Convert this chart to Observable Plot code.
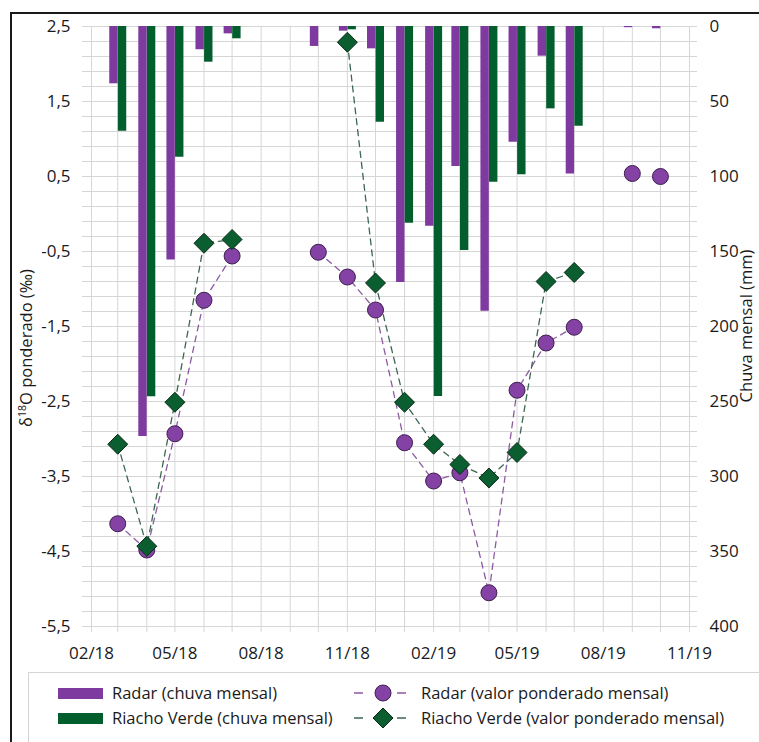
<!DOCTYPE html>
<html><head><meta charset="utf-8">
<script src="https://cdn.jsdelivr.net/npm/d3@7"></script>
<script src="https://cdn.jsdelivr.net/npm/@observablehq/plot@0.6"></script>
<style>
body{margin:0;background:#fff;font-family:"Open Sans",sans-serif;}
#wrap{position:relative;width:759px;height:742px;overflow:hidden;background:#fff;}
#frame{position:absolute;left:10px;top:12px;width:800px;height:800px;border:2px solid #1a1a1a;}
#chart{position:absolute;left:0;top:0;}
#legend{position:absolute;left:28px;top:672px;width:800px;height:100px;border:1px solid #d4d4d4;background:#fff;}
.li{position:absolute;font-size:16.5px;color:#1a1a1a;white-space:nowrap;line-height:20px;}
.sw{position:absolute;width:45px;height:11px;}
.sym{position:absolute;}
</style></head><body>
<div id="wrap">
  <div id="frame"></div>
  <div id="chart"></div>
  <div id="legend"></div>
</div>
<script>
// ---- data (months 03/18 .. 10/19) ----
const months = ["2018-03","2018-04","2018-05","2018-06","2018-07","2018-08","2018-09","2018-10","2018-11","2018-12",
                "2019-01","2019-02","2019-03","2019-04","2019-05","2019-06","2019-07","2019-08","2019-09","2019-10"];
const radarRain   = [38.2, 273.3, 155.6, 15.5, 4.9, null, null, 13.3, 3.1, 14.9, 170.6, 133.2, 93.4, 189.9, 77.2, 19.8, 98.3, null, 0.8, 1.5];
const riachoRain  = [69.8, 246.8, 87.2, 23.8, 8.2, null, null, null, 2.2, 63.8, 131.2, 246.6, 149.4, 103.9, 98.9, 54.9, 66.5, null, null, null];
const radarD18O   = [-4.13, -4.48, -2.93, -1.15, -0.56, null, null, -0.51, -0.84, -1.28, -3.05, -3.56, -3.45, -5.05, -2.35, -1.72, -1.51, null, 0.54, 0.50];
const riachoD18O  = [-3.07, -4.43, -2.51, -0.39, -0.34, null, null, null, 2.29, -0.92, -2.51, -3.07, -3.34, -3.52, -3.18, -0.90, -0.78, null, null, null];
// radar line is drawn only through 07/19 (isolated points afterwards)
const radarLineEnd = "2019-07";

// ---- axis ticks ----
const yMajor = [2.5, 1.5, 0.5, -0.5, -1.5, -2.5, -3.5, -4.5, -5.5];
const rainTickLabels = ["0","50","100","150","200","250","300","350","400"];
const xStart = "2018-02", xEnd = "2019-11";
const xMajorLabels = ["02/18","05/18","08/18","11/18","02/19","05/19","08/19","11/19"];

const seriesNames = {
  radarBar: "Radar (chuva mensal)",
  riachoBar: "Riacho Verde (chuva mensal)",
  radarLine: "Radar (valor ponderado mensal)",
  riachoLine: "Riacho Verde (valor ponderado mensal)"
};
const yTitle = "ponderado (‰)";
const y2Title = "Chuva mensal (mm)";

// ---- colours ----
const PURPLE = "#7e3a9e", GREEN = "#035e2e";
const PURPLE_DOT = "#8442a4", PURPLE_DOT_STROKE = "#3e1f50";
const GREEN_DOT = "#0a5e30", GREEN_DOT_STROKE = "#0b2a17";
const PURPLE_LINE = "#8c5aa3", GREEN_LINE = "#3c6753";
const GRID = "#d6d6d6";

// rain (mm) shares the plot with δ18O: 0 mm at 2.5, 50 mm per unit
const RAIN_TOP = 2.5, MM_PER_UNIT = 50;
const rainToY = mm => RAIN_TOP - mm / MM_PER_UNIT;

const toDate = m => new Date(m + "-01T00:00:00Z");
const rows = months.map((m, i) => ({
  date: toDate(m), radarRain: radarRain[i], riachoRain: riachoRain[i],
  radarD: radarD18O[i], riachoD: riachoD18O[i]
}));

const yMinor = d3.range(0, 41).map(i => +(yMajor[yMajor.length-1] + i * 0.2).toFixed(2));
const monthTicks = d3.utcMonth.range(toDate(xStart), d3.utcMonth.offset(toDate(xEnd), 1));
const xMajor = monthTicks.filter((d, i) => i % 3 === 0);
const fmtY = d => d.toFixed(1).replace(".", ",");
const fmtRain = d => rainTickLabels[yMajor.indexOf(d)];
const fmtX = d => xMajorLabels[xMajor.findIndex(t => +t === +d)];

const chart = Plot.plot({
  width: 759, height: 690,
  marginLeft: 91, marginRight: 70, marginTop: 26, marginBottom: 64,
  style: {fontFamily: "Open Sans, sans-serif", fontSize: "17px", color: "#1a1a1a", background: "transparent"},
  x: {type: "utc", domain: [toDate(xStart), toDate(xEnd)]},
  y: {domain: [yMajor[yMajor.length-1], yMajor[0]]},
  marks: [
    Plot.ruleY(yMinor, {stroke: GRID, strokeWidth: 1}),
    Plot.ruleX(monthTicks, {stroke: GRID, strokeWidth: 1}),
    Plot.axisY({anchor: "left", ticks: yMinor, tickSize: 9, tickFormat: () => "", stroke: GRID, label: null}),
    Plot.axisY({anchor: "right", ticks: yMinor, tickSize: 7, tickFormat: () => "", stroke: GRID, label: null}),
    Plot.axisY({anchor: "left", ticks: yMajor, tickSize: 0, tickPadding: 21, tickFormat: fmtY, label: null}),
    Plot.axisY({anchor: "right", ticks: yMajor, tickSize: 0, tickPadding: 20, tickFormat: fmtRain, label: null}),
    Plot.axisX({ticks: monthTicks, tickSize: 6, tickFormat: () => "", stroke: GRID, label: null}),
    Plot.axisX({ticks: xMajor, tickSize: 0, tickPadding: 20, tickFormat: fmtX, label: null}),
    // bars
    Plot.ruleX(rows.filter(d => d.radarRain != null), {x: "date", y1: () => rainToY(0), y2: d => rainToY(d.radarRain), stroke: PURPLE, strokeWidth: 8.4, dx: -4.3}),
    Plot.ruleX(rows.filter(d => d.riachoRain != null), {x: "date", y1: () => rainToY(0), y2: d => rainToY(d.riachoRain), stroke: GREEN, strokeWidth: 8.4, dx: 4.3}),
    // lines
    Plot.line(rows.filter(d => d.date <= toDate(radarLineEnd)), {x: "date", y: "radarD", stroke: PURPLE_LINE, strokeWidth: 1.3, strokeDasharray: "6,5"}),
    Plot.line(rows, {x: "date", y: "riachoD", stroke: GREEN_LINE, strokeWidth: 1.3, strokeDasharray: "6,5"}),
    // markers
    Plot.dot(rows.filter(d => d.radarD != null), {x: "date", y: "radarD", r: 8, fill: PURPLE_DOT, stroke: PURPLE_DOT_STROKE, strokeWidth: 1}),
    Plot.dot(rows.filter(d => d.riachoD != null), {x: "date", y: "riachoD", symbol: "diamond2", r: 9, fill: GREEN_DOT, stroke: GREEN_DOT_STROKE, strokeWidth: 1})
  ]
});
document.getElementById("chart").appendChild(chart);

// axis titles
const ys = chart.scale("y");
const yMid = (ys.apply(yMajor[0]) + ys.apply(yMajor[yMajor.length-1])) / 2;
const svg = d3.select(chart);
const t1 = svg.append("text")
  .attr("transform", `translate(32,${yMid + 22}) rotate(-90)`)
  .attr("text-anchor", "middle").attr("fill", "#1a1a1a")
  .style("font-size", "16.5px");
t1.append("tspan").text("δ");
t1.append("tspan").attr("dy", -6).style("font-size", "10.5px").text("18");
t1.append("tspan").attr("dy", 6).text("O " + yTitle);
svg.append("text")
  .attr("transform", `translate(752,${yMid}) rotate(-90)`)
  .attr("text-anchor", "middle").attr("fill", "#1a1a1a")
  .style("font-size", "16.5px").text(y2Title);

// legend
const wrap = document.getElementById("wrap");
function add(html, style, cls) {
  const el = document.createElement("div");
  el.className = cls; el.innerHTML = html;
  Object.assign(el.style, style); wrap.appendChild(el);
}
add("", {left: "58px", top: "688px", background: PURPLE}, "sw");
add("", {left: "58px", top: "713px", background: GREEN}, "sw");
add(seriesNames.radarBar, {left: "112px", top: "683px"}, "li");
add(seriesNames.riachoBar, {left: "112px", top: "708px"}, "li");
const symLine = (c, shape) => `<svg width="62" height="22"><line x1="2" x2="60" y1="11" y2="11" stroke="${c}" stroke-width="1.4" stroke-dasharray="9,34"/>${shape}</svg>`;
add(symLine(PURPLE_LINE, `<circle cx="31" cy="11" r="8" fill="${PURPLE_DOT}" stroke="${PURPLE_DOT_STROKE}"/>`), {left: "352px", top: "682px"}, "sym");
add(symLine(GREEN_LINE, `<path d="M31,1L41,11L31,21L21,11Z" fill="${GREEN_DOT}" stroke="${GREEN_DOT_STROKE}"/>`), {left: "352px", top: "707px"}, "sym");
add(seriesNames.radarLine, {left: "421px", top: "683px"}, "li");
add(seriesNames.riachoLine, {left: "421px", top: "708px"}, "li");
</script>
</body></html>
